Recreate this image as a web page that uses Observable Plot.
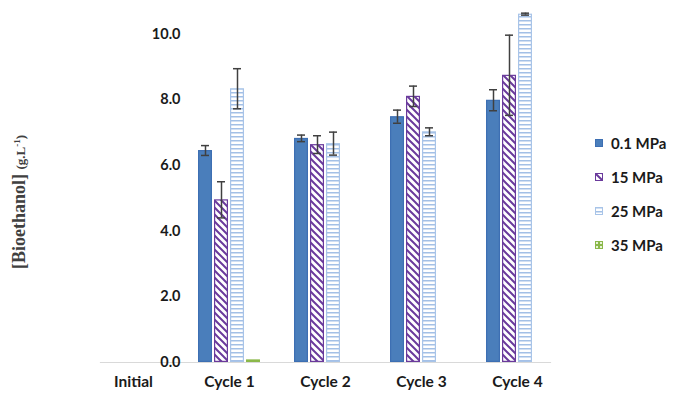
<!DOCTYPE html>
<html>
<head>
<meta charset="utf-8">
<script src="https://cdn.jsdelivr.net/npm/d3@7"></script>
<script src="https://cdn.jsdelivr.net/npm/@observablehq/plot@0.6"></script>
<style>
  html, body { margin: 0; padding: 0; background: #fff; }
  #wrap { position: relative; width: 673px; height: 393px; overflow: hidden; }
  #legend { position: absolute; left: 595px; top: 133px; font-family: Lato, sans-serif; font-weight: bold; font-size: 15px; color: #1a1a1a; }
  #legend .item { display: flex; align-items: center; height: 20px; margin-bottom: 14px; white-space: nowrap; }
  #legend svg { margin-right: 8px; }
</style>
</head>
<body>
<div id="wrap"><div id="legend"></div></div>
<script>
const categories = ["Initial", "Cycle 1", "Cycle 2", "Cycle 3", "Cycle 4"];
const series = ["0.1 MPa", "15 MPa", "25 MPa", "35 MPa"];
const yTicks = [0, 2, 4, 6, 8, 10];

const v01 = [null, 6.45, 6.82, 7.48, 7.98];
const e01 = [null, 0.15, 0.10, 0.20, 0.32];
const v15 = [null, 4.95, 6.63, 8.10, 8.74];
const e15 = [null, 0.55, 0.27, 0.31, 1.22];
const v25 = [null, 8.33, 6.66, 7.02, 10.60];
const e25 = [null, 0.61, 0.35, 0.12, 0.03];
const v35 = [null, 0.08, null, null, null];
const e35 = [null, null, null, null, null];

const values = [v01, v15, v25, v35];
const errors = [e01, e15, e25, e35];
const fills = ["url(#p01)", "url(#p15)", "url(#p25)", "url(#p35)"];
const strokes = ["#3d6fb3", "#6a3a9c", "#a8c4e8", "#8bb84a"];

const rows = [];
series.forEach((s, si) => {
  categories.forEach((c, ci) => {
    const v = values[si][ci];
    if (v != null) rows.push({category: c, series: s, si, value: v, err: errors[si][ci]});
  });
});
const errRows = rows.filter(d => d.err != null);

const marks = [
  Plot.frame({facet: "super", anchor: "bottom", stroke: "#d9d9d9", strokeWidth: 1.2}),
  ...series.map((s, si) => Plot.barY(rows.filter(d => d.si === si), {
    fx: "category", x: "series", y: "value",
    fill: fills[si], stroke: strokes[si], strokeWidth: 1.2, inset: 0.6
  })),
  Plot.ruleX(errRows, {fx: "category", x: "series", y1: d => d.value - d.err, y2: d => d.value + d.err, stroke: "#404040", strokeWidth: 1.5}),
  Plot.tickY(errRows, {fx: "category", x: "series", y: d => d.value + d.err, stroke: "#404040", strokeWidth: 1.5, insetLeft: 3, insetRight: 3}),
  Plot.tickY(errRows, {fx: "category", x: "series", y: d => d.value - d.err, stroke: "#404040", strokeWidth: 1.5, insetLeft: 3, insetRight: 3}),
  Plot.axisY({ticks: yTicks, tickFormat: d3.format(".1f"), tickSize: 0, tickPadding: 16, label: null}),
  Plot.axisFx({anchor: "bottom", tickSize: 0, tickPadding: 13, label: null, fontSize: 15.5})
];

const chart = Plot.plot({
  width: 673,
  height: 393,
  marginLeft: 84,
  marginRight: 107,
  marginTop: 12,
  marginBottom: 31,
  style: {fontFamily: "Lato, sans-serif", fontSize: "14.5px", fontWeight: "bold", color: "#1a1a1a", background: "#fff"},
  fx: {domain: categories, paddingInner: 0.315, paddingOuter: 0.1575},
  x: {domain: series, paddingInner: 0.15, paddingOuter: 0.05, axis: null},
  y: {domain: [0, 10.65], axis: null},
  marks
});

// patterns
const svg = d3.select(chart.tagName.toLowerCase() === "svg" ? chart : chart.querySelector("svg"));
const defs = svg.insert("defs", ":first-child");
const p01 = defs.append("pattern").attr("id", "p01").attr("patternUnits", "userSpaceOnUse").attr("width", 4).attr("height", 4);
p01.append("rect").attr("width", 4).attr("height", 4).attr("fill", "#4a7ebb");
const p15 = defs.append("pattern").attr("id", "p15").attr("patternUnits", "userSpaceOnUse").attr("width", 7).attr("height", 7);
p15.append("rect").attr("width", 7).attr("height", 7).attr("fill", "#fff");
p15.append("path").attr("d", "M0,0L7,7M-3.5,3.5L3.5,10.5M3.5,-3.5L10.5,3.5").attr("stroke", "#6a3a9c").attr("stroke-width", 2);
const p25 = defs.append("pattern").attr("id", "p25").attr("patternUnits", "userSpaceOnUse").attr("width", 4).attr("height", 4);
p25.append("rect").attr("width", 4).attr("height", 4).attr("fill", "#fff");
p25.append("rect").attr("y", 0).attr("width", 4).attr("height", 1.5).attr("fill", "#a3c0e6");
const p35 = defs.append("pattern").attr("id", "p35").attr("patternUnits", "userSpaceOnUse").attr("width", 4).attr("height", 4);
p35.append("rect").attr("width", 4).attr("height", 4).attr("fill", "#8bb84a");
p35.append("rect").attr("x", 1).attr("y", 1).attr("width", 2).attr("height", 2).attr("fill", "#e6f2d5");

// y-axis title
const t = svg.append("text")
  .attr("transform", "translate(25,202) rotate(-90)")
  .attr("text-anchor", "middle")
  .attr("fill", "#404040")
  .style("font-family", "'Liberation Serif', 'DejaVu Serif', serif")
  .style("font-weight", "bold");
t.append("tspan").style("font-size", "18px").text("[Bioethanol] ");
t.append("tspan").style("font-size", "13px").text("(g.L");
t.append("tspan").style("font-size", "9px").attr("dy", "-5").text("-1");
t.append("tspan").style("font-size", "13px").attr("dy", "5").text(")");

document.getElementById("wrap").prepend(chart);

// legend
const legend = d3.select("#legend");
series.forEach((s, si) => {
  const item = legend.append("div").attr("class", "item");
  const sw = item.append("svg").attr("width", 8).attr("height", 8);
  sw.append("rect").attr("x", 0.5).attr("y", 0.5).attr("width", 7).attr("height", 7)
    .attr("fill", fills[si]).attr("stroke", strokes[si]).attr("stroke-width", 1);
  item.append("span").text(s);
});
</script>
</body>
</html>
